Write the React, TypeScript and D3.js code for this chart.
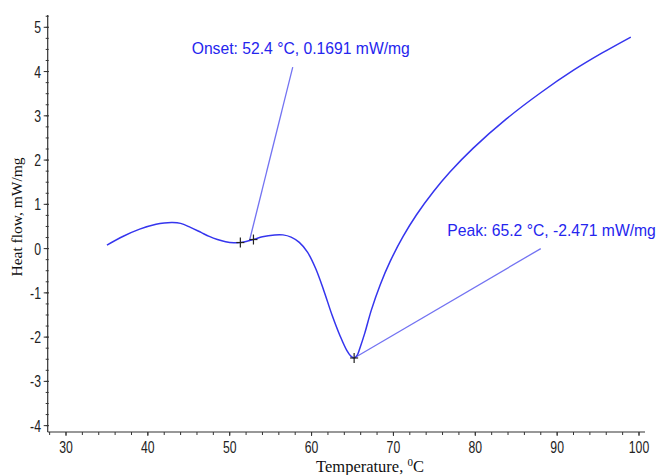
import React from "react";
import * as d3 from "d3";

const temps = [35.0, 37.0, 39.0, 41.0, 42.0, 43.0, 44.0, 45.2, 46.5, 47.5, 48.5, 49.5, 50.5, 51.2, 52.0, 53.0, 54.0, 55.5, 56.5, 57.5, 58.5, 59.5, 60.5, 61.5, 62.5, 63.5, 64.3, 64.8, 65.2, 65.6, 65.9, 66.5, 67.3, 68.4, 69.6, 71.2, 72.8, 74.9, 76.9, 79.75, 83.8, 87.9, 92.0, 95.5, 99.0];
const heatFlow = [0.08, 0.28, 0.44, 0.55, 0.58, 0.59, 0.57, 0.48, 0.365, 0.275, 0.205, 0.155, 0.132, 0.135, 0.16, 0.21, 0.27, 0.31, 0.31, 0.26, 0.14, -0.08, -0.45, -0.95, -1.5, -1.98, -2.3, -2.43, -2.471, -2.4, -2.25, -1.91, -1.39, -0.81, -0.29, 0.28, 0.76, 1.29, 1.73, 2.27, 2.93, 3.51, 4.03, 4.42, 4.78];

const xTicks = [30, 40, 50, 60, 70, 80, 90, 100];
const yTicks = [-4, -3, -2, -1, 0, 1, 2, 3, 4, 5];

const markerT = [51.3, 52.9, 65.2];
const markerHF = [0.137, 0.205, -2.471];

const annotLabels = ["Onset: 52.4 °C, 0.1691 mW/mg", "Peak: 65.2 °C, -2.471 mW/mg"];
const annotFromT = [52.4, 65.2];
const annotFromHF = [0.1691, -2.471];
const annotToT = [57.7, 88.0];
const annotToHF = [4.1, 0.0];

export default function App() {
  const W = 661, H = 475;
  const x = d3.scaleLinear().domain([30, 100]).range([66, 639]);
  const y = d3.scaleLinear().domain([0, 5]).range([248.6, 27.3]);
  const xLeft = 47.7, xRight = 645, yTop = 15, yBottom = 432;

  const pts = temps.map((t, i) => [t, heatFlow[i]] as [number, number]);
  const line = d3.line<[number, number]>().x(d => x(d[0])).y(d => y(d[1])).curve(d3.curveCatmullRom.alpha(0.5));

  const xMinor = d3.range(28, 101, 2).filter(v => x(v) >= xLeft && x(v) <= xRight);
  const yMinor = d3.range(-4, 5.26, 0.25).filter(v => y(v) <= yBottom && y(v) >= yTop);

  const axisColor = "#333";
  const tickFont = "Arial, 'Liberation Sans', sans-serif";
  const serif = "'Liberation Serif', 'Times New Roman', serif";
  const blue = "#3535ee";

  const labelX = [191.7, 447.3];
  const labelY = [54, 236];

  return (
    <svg width={W} height={H} style={{ position: "absolute", left: 0, top: 0, background: "#fff" }}>
      <line x1={xLeft} x2={xLeft} y1={yTop} y2={yBottom} stroke={axisColor} strokeWidth={1.2} />
      <line x1={xLeft} x2={xRight} y1={yBottom} y2={yBottom} stroke={axisColor} strokeWidth={1.2} />
      {yMinor.map((v, i) => (
        <line key={"ym" + i} x1={xLeft - 2} x2={xLeft + 1} y1={y(v)} y2={y(v)} stroke={axisColor} strokeWidth={1} />
      ))}
      {yTicks.map(v => (
        <line key={"yt" + v} x1={xLeft - 4} x2={xLeft + 1} y1={y(v)} y2={y(v)} stroke={axisColor} strokeWidth={1} />
      ))}
      {xMinor.map((v, i) => (
        <line key={"xm" + i} x1={x(v)} x2={x(v)} y1={yBottom} y2={yBottom + 3} stroke={axisColor} strokeWidth={1} />
      ))}
      {xTicks.map(v => (
        <line key={"xt" + v} x1={x(v)} x2={x(v)} y1={yBottom} y2={yBottom + 4} stroke={axisColor} strokeWidth={1} />
      ))}
      {yTicks.map(v => (
        <text key={"yl" + v} transform={`translate(41,${y(v) + 6}) scale(0.72,1)`} textAnchor="end" fontFamily={tickFont} fontSize={17} fill="#222">{v}</text>
      ))}
      {xTicks.map(v => (
        <text key={"xl" + v} transform={`translate(${x(v)},452.5) scale(0.72,1)`} textAnchor="middle" fontFamily={tickFont} fontSize={17} fill="#222">{v}</text>
      ))}
      <text transform={`translate(22,217) rotate(-90)`} textAnchor="middle" fontFamily={serif} fontSize={15.5} fill="#111">Heat flow, mW/mg</text>
      <text x={370} y={471.5} textAnchor="middle" fontFamily={serif} fontSize={16.5} fill="#111">
        Temperature, <tspan fontSize={11} dy={-6}>0</tspan><tspan dy={6}>C</tspan>
      </text>
      {annotLabels.map((_, i) => (
        <line key={"al" + i} x1={x(annotFromT[i])} y1={y(annotFromHF[i])} x2={x(annotToT[i])} y2={y(annotToHF[i])} stroke="#7373f2" strokeWidth={1.3} />
      ))}
      <path d={line(pts) || ""} fill="none" stroke={blue} strokeWidth={1.5} />
      {markerT.map((t, i) => (
        <g key={"mk" + i} stroke="#222" strokeWidth={1.2}>
          <line x1={x(t) - 4} x2={x(t) + 4} y1={y(markerHF[i])} y2={y(markerHF[i])} />
          <line x1={x(t)} x2={x(t)} y1={y(markerHF[i]) - 5} y2={y(markerHF[i]) + 5} />
        </g>
      ))}
      {annotLabels.map((s, i) => (
        <text key={"at" + i} x={labelX[i]} y={labelY[i]} fontFamily={tickFont} fontSize={15.7} fill="#2525ee">{s}</text>
      ))}
    </svg>
  );
}
